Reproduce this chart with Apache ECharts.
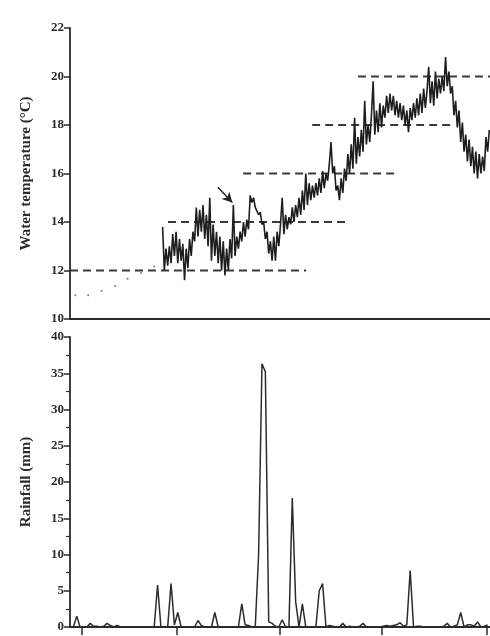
<!DOCTYPE html>
<html>
<head>
<meta charset="utf-8">
<script src="https://cdn.jsdelivr.net/npm/echarts@6/dist/echarts.min.js"></script>
<style>
html, body { margin: 0; padding: 0; background: #fff; }
#chart { width: 490px; height: 636px; }
</style>
</head>
<body>
<div id="chart"></div>
<script>
// water temperature, one reading every half day from day 27.5
var tempStartDay = 27.5;
var tempStep = 0.5;
var tempC = [
    13.8, 12.0, 12.9, 12.2, 13.0, 12.3, 13.5, 12.6, 13.6, 12.3,
    13.3, 12.4, 13.1, 11.6, 12.9, 12.1, 13.3, 12.6, 13.6, 13.2,
    14.6, 13.4, 14.5, 13.6, 14.7, 13.3, 14.3, 13.0, 15.0, 12.4,
    13.9, 12.6, 13.6, 12.3, 13.4, 12.0, 13.2, 11.8, 12.9, 12.0,
    13.3, 12.5, 14.7, 12.6, 13.4, 12.9, 13.6, 13.2, 14.0, 13.4,
    14.1, 13.7, 15.1, 14.8, 15.0, 14.6, 14.6, 14.3, 14.4, 13.9,
    14.0, 13.3, 13.6, 12.7, 13.2, 12.4, 13.4, 12.4, 13.6, 13.0,
    13.9, 15.0, 13.5, 14.3, 13.7, 14.2, 13.9, 14.6, 14.0, 14.7,
    14.2, 15.0, 14.3, 15.3, 14.5, 16.0, 14.7, 15.6, 14.9, 15.5,
    15.0, 15.6, 15.1, 15.8, 15.2, 16.1, 15.4, 16.0, 15.7, 16.4,
    17.3, 16.0, 16.3, 15.3, 15.5, 14.9, 15.8, 15.2, 16.2, 15.7,
    16.8, 16.0, 17.2, 16.2, 18.3, 16.4, 17.5, 16.7, 17.8, 16.9,
    19.0, 17.2, 18.0, 17.3, 18.4, 19.8, 17.6, 18.6, 17.7, 18.9,
    17.9, 18.8, 18.3, 19.2, 18.5, 19.3, 18.6, 19.2, 18.4, 19.0,
    18.3, 18.9, 18.2, 18.8, 18.0, 18.6, 17.7, 18.7, 18.2, 18.9,
    18.3, 19.1, 18.4, 19.3, 18.5, 19.5, 18.7, 19.4, 20.4, 18.9,
    19.8, 18.8, 20.2, 19.1, 19.9, 19.3, 20.0, 19.4, 20.8, 19.6,
    20.2, 19.3, 19.6, 18.4, 19.0, 17.9, 18.6, 17.3, 18.1, 16.9,
    17.6, 16.5, 17.4, 16.3, 17.1, 16.0, 16.9, 15.8, 16.8, 16.0,
    16.7, 16.1, 17.5, 16.9, 17.8
];

// early readings drawn as dots [day, °C]
var dotDays = [1.6, 5.4, 9.4, 13.4, 17.1, 21.1, 25.0];
var dotTemp = [10.98, 10.98, 11.17, 11.36, 11.66, 11.9, 12.16];

// dashed reference levels: [level, fromDay, toDay]
var levels = [12, 14, 16, 18, 20];
var levelFrom = [0, 29.1, 51.4, 71.9, 85.5];
var levelTo = [70.1, 82.3, 97.7, 112.9, 124.7];

// daily rainfall (mm) from day 0
var rainMm = [
    0, 0, 1.5, 0, 0, 0, 0.5, 0.1, 0.1, 0,
    0.1, 0.5, 0.2, 0, 0.2, 0, 0, 0, 0, 0,
    0, 0, 0, 0, 0, 0, 5.8, 0, 0, 0,
    6.0, 0.3, 2.0, 0, 0, 0, 0, 0, 0.9, 0.2,
    0, 0, 0, 2.0, 0, 0, 0, 0, 0, 0,
    0, 3.2, 0.3, 0.2, 0, 0, 10, 36.3, 35.2, 0.7,
    0.5, 0.1, 0, 1.0, 0, 0, 17.8, 3.5, 0, 3.2,
    0, 0, 0, 0, 5.0, 6.0, 0, 0.2, 0.1, 0,
    0, 0.5, 0, 0.1, 0, 0, 0.1, 0.5, 0, 0,
    0, 0, 0, 0.1, 0.2, 0.1, 0.2, 0.3, 0.6, 0.1,
    0.3, 7.8, 0, 0.1, 0.1, 0, 0, 0, 0, 0,
    0, 0.1, 0.5, 0, 0.1, 0.3, 2.0, 0, 0.3, 0.3,
    0.1, 0.7, 0, 0.1, 0.3
];

// month ticks on the time axis (day)
var monthTicks = [3.6, 31.8, 62.4, 92.7, 123.6];

// arrow marking the event
var arrowFrom = [43.9, 15.43];
var arrowTo = [48.2, 14.8];

var dayMax = 124.7;
var ink = '#2b2b2b';
var serif = 'Liberation Serif';

function chart_temp_rain(id){
    var myChart = echarts.init(document.getElementById(id));

    var tempData = tempC.map(function(v, i){ return [tempStartDay + tempStep * i, v]; });
    var dotData = dotDays.map(function(d, i){ return [d, dotTemp[i]]; });
    var rainData = rainMm.map(function(v, d){ return [d, v]; });

    var levelSeries = levels.map(function(lv, i){
        return {
            type: 'line',
            xAxisIndex: 0,
            yAxisIndex: 0,
            data: [[levelFrom[i], lv], [levelTo[i], lv]],
            symbol: 'none',
            silent: true,
            lineStyle: { color: '#3a3a3a', width: 1.8, type: [8, 5] },
            z: 1
        };
    });

    var yLabel = { color: ink, fontFamily: serif, fontWeight: 'bold', fontSize: 13, margin: 6 };
    var yName = { color: ink, fontFamily: serif, fontWeight: 'bold', fontSize: 15 };
    var axLine = { lineStyle: { color: ink, width: 1.8 } };

    var option = {
        animation: false,
        grid: [
            { left: 70, right: 0, top: 28, height: 291 },
            { left: 70, right: 0, top: 337, height: 290 }
        ],
        xAxis: [
            {
                type: 'value', gridIndex: 0, min: 0, max: dayMax,
                axisLine: axLine,
                axisTick: { show: false },
                axisLabel: { show: false },
                splitLine: { show: false }
            },
            {
                type: 'value', gridIndex: 1, min: 0, max: dayMax,
                axisLine: axLine,
                axisTick: { show: true, length: 8, customValues: monthTicks,
                    lineStyle: { color: ink, width: 1.5 } },
                axisLabel: { show: false },
                splitLine: { show: false }
            }
        ],
        yAxis: [
            {
                type: 'value', gridIndex: 0, min: 10, max: 22, interval: 2,
                name: 'Water temperature (°C)',
                nameLocation: 'middle', nameGap: 36, nameTextStyle: yName,
                axisLine: axLine,
                axisTick: { length: 6, lineStyle: { color: ink, width: 1.5 } },
                axisLabel: yLabel,
                splitLine: { show: false }
            },
            {
                type: 'value', gridIndex: 1, min: 0, max: 40, interval: 5,
                name: 'Rainfall (mm)',
                nameLocation: 'middle', nameGap: 36, nameTextStyle: yName,
                axisLine: axLine,
                axisTick: { length: 6, lineStyle: { color: ink, width: 1.5 } },
                minorTick: { show: true, splitNumber: 2, length: 4, lineStyle: { color: ink, width: 1.2 } },
                axisLabel: yLabel,
                splitLine: { show: false }
            }
        ],
        series: levelSeries.concat([
            {
                name: 'temperature',
                type: 'line',
                xAxisIndex: 0,
                yAxisIndex: 0,
                data: tempData,
                symbol: 'none',
                lineStyle: { color: '#1e1e1e', width: 1.6 },
                z: 3,
                markLine: {
                    silent: true,
                    symbol: ['none', 'arrow'],
                    symbolSize: [8, 10],
                    label: { show: false },
                    lineStyle: { color: '#222', width: 1.4, type: 'solid' },
                    data: [[{ coord: arrowFrom }, { coord: arrowTo }]]
                }
            },
            {
                name: 'early',
                type: 'scatter',
                xAxisIndex: 0,
                yAxisIndex: 0,
                data: dotData,
                symbolSize: 2,
                itemStyle: { color: '#555' }
            },
            {
                name: 'rainfall',
                type: 'line',
                xAxisIndex: 1,
                yAxisIndex: 1,
                data: rainData,
                symbol: 'none',
                lineStyle: { color: '#2b2b2b', width: 1.5 }
            }
        ])
    };
    myChart.setOption(option);
    return myChart;
}

chart_temp_rain('chart');
</script>
</body>
</html>
